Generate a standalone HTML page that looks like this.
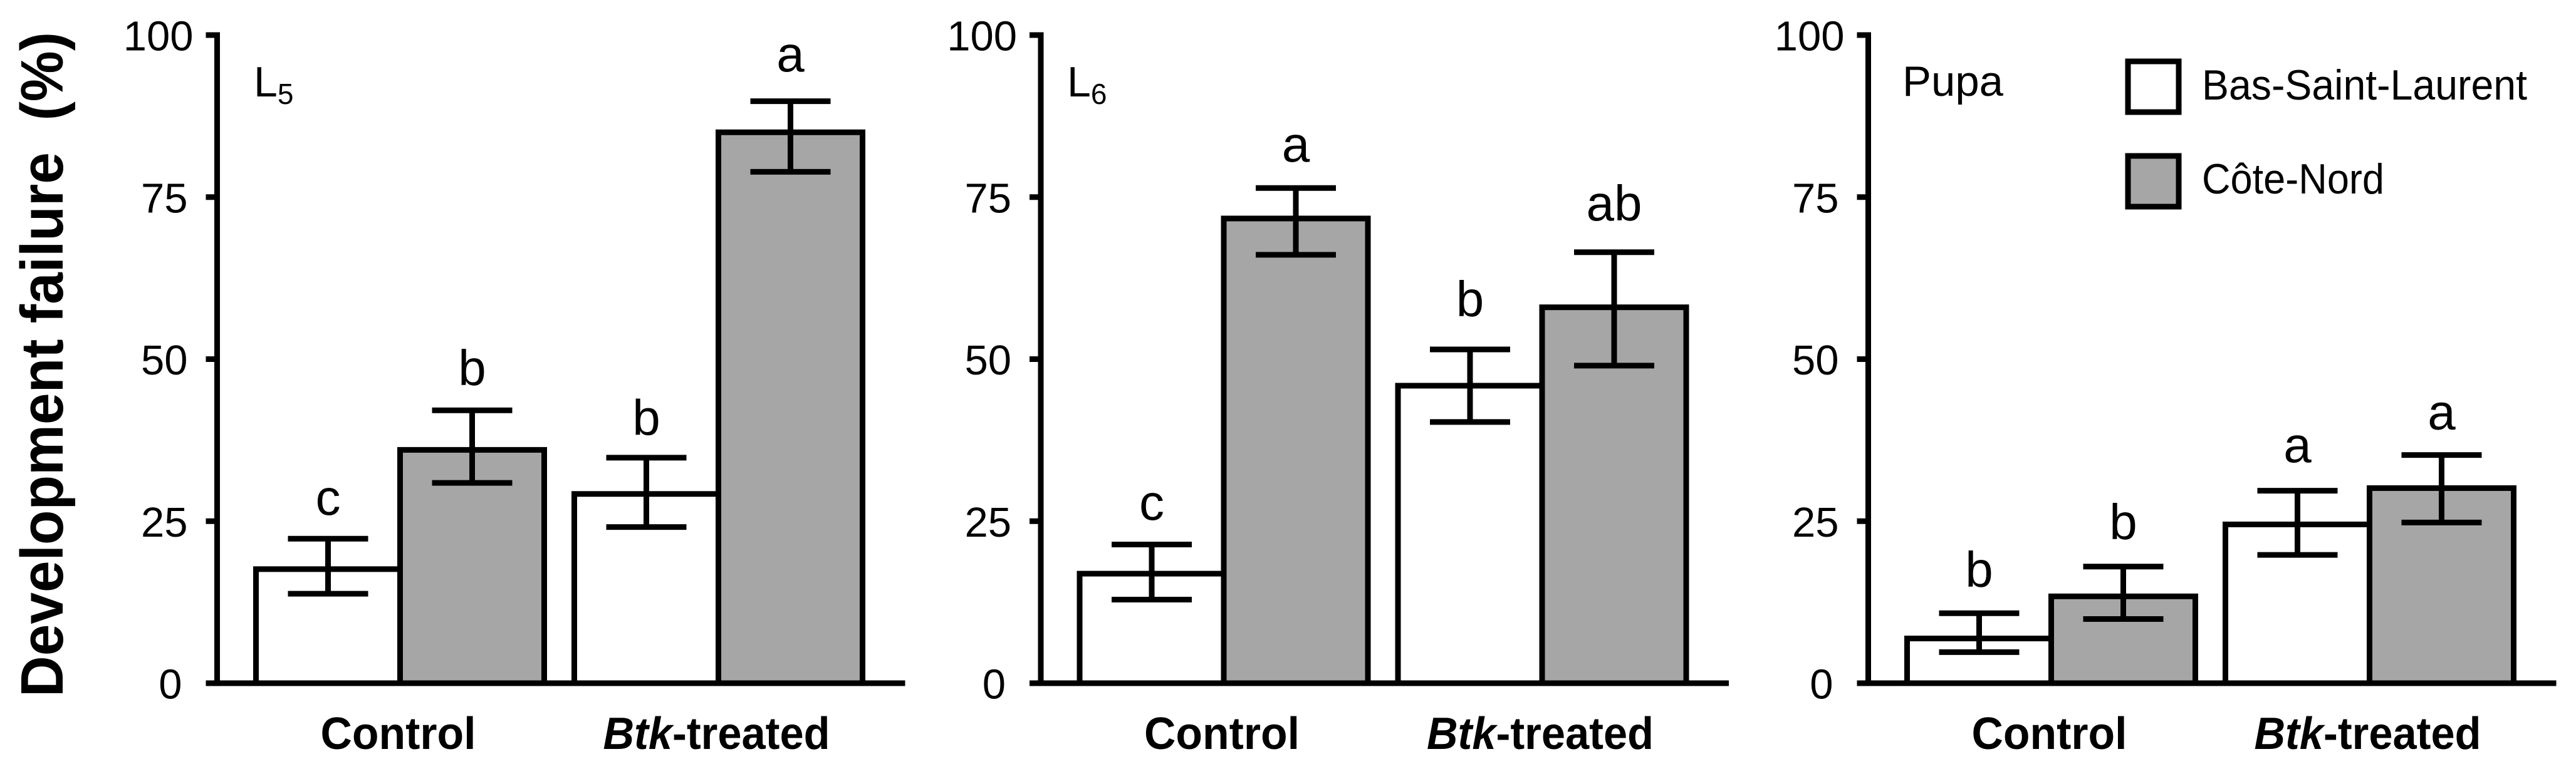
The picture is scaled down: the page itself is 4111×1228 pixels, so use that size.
<!DOCTYPE html>
<html lang="en">
<head>
<meta charset="utf-8">
<title>Development failure chart</title>
<style>
html,body{margin:0;padding:0;background:#fff;width:4111px;height:1228px;overflow:hidden}
svg{display:block}
text{font-family:"Liberation Sans",Arial,sans-serif;fill:#000}
.tick{font-size:67px}
.letter{font-size:80px;text-anchor:middle}
.cat{font-size:72px;font-weight:bold;text-anchor:middle}
.stage{font-size:68px}
.legend-text{font-size:68px}
</style>
</head>
<body>
<svg id="chart" width="4111" height="1228" viewBox="0 0 4111 1228" xmlns="http://www.w3.org/2000/svg">
  <rect x="0" y="0" width="4111" height="1228" fill="#fff"/>
  <text transform="translate(100,1113) rotate(-90)" font-size="96" font-weight="bold" xml:space="preserve" style="white-space:pre" textLength="1062" lengthAdjust="spacingAndGlyphs">Development failure  (%)</text>

  <text class="stage" x="405" y="154">L<tspan font-size="46" dy="12">5</tspan></text>
  <text class="stage" x="1703" y="154">L<tspan font-size="46" dy="12">6</tspan></text>
  <text class="stage" x="3036" y="153" textLength="161" lengthAdjust="spacingAndGlyphs">Pupa</text>

  <g>
    <rect x="3396" y="98" width="81" height="81" fill="#fff" stroke="#000" stroke-width="9"/>
    <text class="legend-text" x="3514" y="159" textLength="519" lengthAdjust="spacingAndGlyphs">Bas-Saint-Laurent</text>
    <rect x="3396" y="249" width="81" height="81" fill="#a6a6a6" stroke="#000" stroke-width="9"/>
    <text class="legend-text" x="3514" y="309" textLength="291" lengthAdjust="spacingAndGlyphs">Côte-Nord</text>
  </g>
</svg>
<script>
// Chart data (order: Control BSL, Control CN, Btk BSL, Btk CN)
const tickValues = [0, 25, 50, 75, 100];
const categories = ['Control', 'Btk-treated'];
const seriesColors = ['#ffffff', '#a6a6a6'];

const l5Means = [17.6, 36.0, 29.2, 85.0];
const l5Upper = [22.3, 42.1, 34.8, 89.8];
const l5Lower = [13.8, 30.9, 24.1, 78.9];
const l5Letters = ['c', 'b', 'b', 'a'];
const l5LetterLift = [3.7, 3.9, 3.5, 4.6];

const l6Means = [16.9, 71.7, 45.9, 58.0];
const l6Upper = [21.4, 76.4, 51.5, 66.5];
const l6Lower = [12.9, 66.1, 40.3, 49.0];
const l6Letters = ['c', 'a', 'b', 'ab'];
const l6LetterLift = [3.8, 4.1, 5.1, 4.9];

const pupaMeans = [6.9, 13.4, 24.5, 30.1];
const pupaUpper = [10.8, 18.0, 29.7, 35.2];
const pupaLower = [4.8, 9.9, 19.8, 24.8];
const pupaLetters = ['b', 'b', 'a', 'a'];
const pupaLetterLift = [4.1, 4.2, 4.4, 4.0];

const panelNames = ['l5', 'l6', 'pupa'];
const panelMeans = [l5Means, l6Means, pupaMeans];
const panelUpper = [l5Upper, l6Upper, pupaUpper];
const panelLower = [l5Lower, l6Lower, pupaLower];
const panelLetters = [l5Letters, l6Letters, pupaLetters];
const panelLetterLift = [l5LetterLift, l6LetterLift, pupaLetterLift];

// Layout
const svg = document.getElementById('chart');
const NS = 'http://www.w3.org/2000/svg';
const Y0 = 1091, PX_PER_UNIT = 10.35, STROKE = 9;
const BAR_W = 230, GROUP_GAP = 48, AXIS_TO_BAR = 62, CAP_W = 128, TICK_LEN = 18, AXIS_LEN = 1098;
const panelAxisOrigins = [346.5, 1661, 2981.5];

function yScale(v) { return Y0 - v * PX_PER_UNIT; }
function barLeft(axisX, i) {
  const group = Math.floor(i / 2), series = i % 2;
  return axisX + AXIS_TO_BAR + group * (2 * BAR_W + GROUP_GAP) + series * BAR_W;
}
function make(tag, attrs, parent) {
  const e = document.createElementNS(NS, tag);
  for (const k in attrs) e.setAttribute(k, attrs[k]);
  parent.appendChild(e);
  return e;
}
function line(x1, y1, x2, y2, parent) {
  return make('line', {x1: x1, y1: y1, x2: x2, y2: y2, stroke: '#000', 'stroke-width': STROKE}, parent);
}

panelNames.forEach(function (name, p) {
  const axisX = panelAxisOrigins[p];
  const g = make('g', {}, svg);
  
  

  // Bars
  panelMeans[p].forEach(function (v, i) {
    const x = barLeft(axisX, i);
    const bar = make('rect', {x: x, y: yScale(v), width: BAR_W, height: Y0 - yScale(v), fill: seriesColors[i % 2], stroke: '#000', 'stroke-width': STROKE}, g);
    
    
  });

  // Error bars and significance letters
  panelMeans[p].forEach(function (v, i) {
    const cx = barLeft(axisX, i) + BAR_W / 2;
    const up = yScale(panelUpper[p][i]), lo = yScale(panelLower[p][i]);
    const eg = make('g', {}, g);
    
    
    line(cx, up, cx, lo, eg);
    line(cx - CAP_W / 2, up, cx + CAP_W / 2, up, eg);
    line(cx - CAP_W / 2, lo, cx + CAP_W / 2, lo, eg);
    const t = make('text', {x: cx, y: yScale(panelUpper[p][i] + panelLetterLift[p][i]), 'class': 'letter'}, g);
    t.textContent = panelLetters[p][i];
    
    
  });

  // Y axis
  const yAxis = line(axisX, yScale(100) - STROKE / 2, axisX, Y0, g);
  
  
  tickValues.forEach(function (v) {
    const tk = line(axisX - TICK_LEN, yScale(v), axisX, yScale(v), g);
    
    
    const label = String(v);
    const t = make('text', {x: axisX - 38 - 9 * (3 - label.length), y: yScale(v) + 24.5, 'text-anchor': 'end', 'class': 'tick'}, g);
    t.textContent = label;
    
    
  });

  // X axis
  const xAxis = line(axisX - TICK_LEN, Y0, axisX + AXIS_LEN, Y0, g);
  
  

  // Category labels
  categories.forEach(function (c, gi) {
    const cx = barLeft(axisX, gi * 2 + 1) - 3;
    const t = make('text', {x: cx, y: 1196, 'class': 'cat'}, g);
    
    
    if (c.indexOf('Btk') === 0) {
      const it = make('tspan', {'font-style': 'italic'}, t);
      it.textContent = 'Btk';
      const rest = make('tspan', {}, t);
      rest.textContent = c.slice(3);
      t.setAttribute('textLength', 362);
      t.setAttribute('lengthAdjust', 'spacingAndGlyphs');
    } else {
      t.textContent = c;
      t.setAttribute('textLength', 248);
      t.setAttribute('lengthAdjust', 'spacingAndGlyphs');
    }
  });
});
</script>
</body>
</html>
